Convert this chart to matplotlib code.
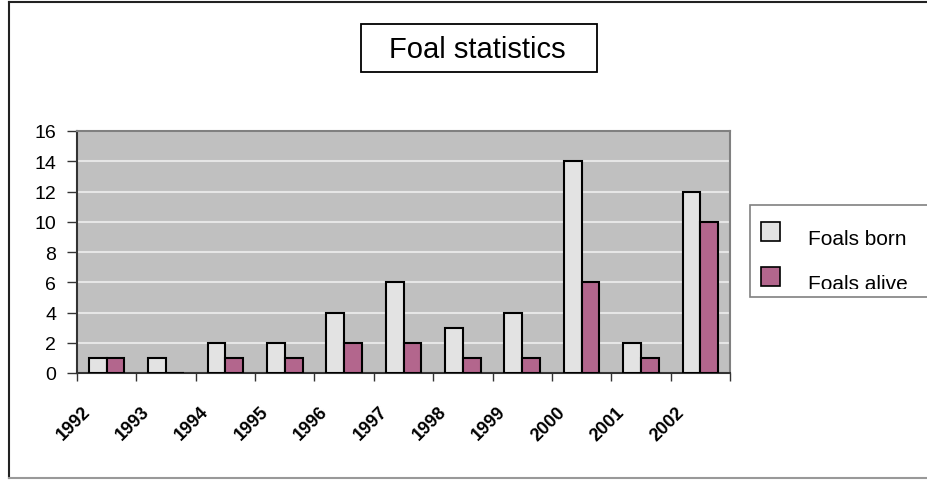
import numpy as np
import matplotlib
matplotlib.use("Agg")
import matplotlib.pyplot as plt
from matplotlib.patches import Rectangle
from matplotlib.lines import Line2D
from matplotlib.transforms import ScaledTranslation

plt.rcParams['font.family'] = ['Liberation Sans', 'DejaVu Sans']

# data
years = ['1992', '1993', '1994', '1995', '1996', '1997', '1998', '1999', '2000', '2001', '2002']
foals_born = [1, 1, 2, 2, 4, 6, 3, 4, 14, 2, 12]
foals_alive = [1, 0, 1, 1, 2, 2, 1, 1, 6, 1, 10]
yticks = [0, 2, 4, 6, 8, 10, 12, 14, 16]

born_color = '#E3E3E3'
alive_color = '#B3668D'

W, H = 927, 481
fig = plt.figure(figsize=(W / 100, H / 100), dpi=100)

# pixel coords (from top-left) -> figure fraction
def px(x, y):
    return x / W, 1 - y / H

# outer chart border
fig.add_artist(Line2D([px(9, 3)[0], px(9, 479)[0]], [px(9, 3)[1], px(9, 479)[1]],
                      transform=fig.transFigure, color='#222222', lw=1.5))
fig.add_artist(Line2D([px(9, 3)[0], 1.0], [px(9, 3)[1], px(9, 3)[1]],
                      transform=fig.transFigure, color='#222222', lw=1.5))
fig.add_artist(Line2D([px(9, 479)[0], 1.0], [px(9, 479)[1], px(9, 479)[1]],
                      transform=fig.transFigure, color='#999999', lw=1.5))

ax = fig.add_axes([77 / W, 1 - 374 / H, (730 - 77) / W, (374 - 132) / H])
ax.set_facecolor('#C0C0C0')

x = np.arange(len(years))
w = 0.3
ax.bar(x - w / 2, foals_born, w, color=born_color, edgecolor='black', linewidth=1.5, zorder=3)
ax.bar(x + w / 2, foals_alive, w, color=alive_color, edgecolor='black', linewidth=1.5, zorder=3)

ax.set_xlim(-0.5, len(years) - 0.5)
ax.set_ylim(0, 16)
ax.set_yticks(yticks)
ax.set_yticklabels([str(v) for v in yticks], fontsize=14)
ax.yaxis.grid(True, color='#E6E6E6', linewidth=1.5, zorder=1)
ax.set_axisbelow(True)

# category boundary ticks on x
ax.set_xticks(np.arange(-0.5, len(years), 1.0))
ax.set_xticklabels([])
ax.tick_params(axis='x', direction='out', length=6, width=1, color='#333333')
ax.tick_params(axis='y', direction='out', length=7, width=1, color='#333333', pad=8)

offset = ScaledTranslation(-25 / 100, -30 / 100, fig.dpi_scale_trans)
for i, yr in enumerate(years):
    ax.text(i, 0, yr, rotation=45, ha='right', va='top', rotation_mode='anchor',
            fontsize=13, fontweight='bold',
            transform=ax.get_xaxis_transform() + offset)

for s in ['left', 'bottom']:
    ax.spines[s].set_color('#333333')
    ax.spines[s].set_linewidth(1.5)
for s in ['top', 'right']:
    ax.spines[s].set_color('#808080')
    ax.spines[s].set_linewidth(1.5)

# title box
fig.add_artist(Rectangle(px(361, 73), (597 - 361) / W, (73 - 25) / H, transform=fig.transFigure,
                         facecolor='white', edgecolor='black', linewidth=1.3))
fig.text(477 / W, 1 - 58 / H, 'Foal statistics', ha='center', va='baseline', fontsize=21)

# legend drawn by hand so the second label gets clipped like the reference
lx0, ly0, lx1, ly1 = 750, 206, 935, 298
frame = Rectangle(px(lx0, ly1), (lx1 - lx0) / W, (ly1 - ly0) / H, transform=fig.transFigure,
                  facecolor='white', edgecolor='#808080', linewidth=1.2)
fig.add_artist(frame)
clip = Rectangle(px(lx0, 290), (lx1 - lx0) / W, (290 - ly0) / H, transform=fig.transFigure,
                 facecolor='none', edgecolor='none')
fig.add_artist(clip)
for (label, col, sy) in [('Foals born', born_color, 223), ('Foals alive', alive_color, 268)]:
    fig.add_artist(Rectangle(px(761, sy + 19), 19 / W, 19 / H, transform=fig.transFigure,
                             facecolor=col, edgecolor='black', linewidth=1.2))
    t = fig.text(808 / W, 1 - (sy + 22) / H, label, ha='left', va='baseline', fontsize=15)
    t.set_clip_path(clip)

fig.savefig('out.png', dpi=100)
